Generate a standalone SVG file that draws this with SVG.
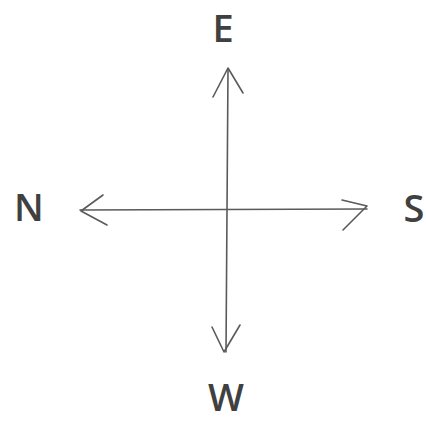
<svg xmlns="http://www.w3.org/2000/svg" width="426" height="423" viewBox="0 0 426 423">
<style>
.lbl{font-family:"Open Sans","Liberation Sans",sans-serif;font-size:38px;font-weight:600;fill:#404040;text-anchor:middle}
.ln{stroke:#5a5a5a;stroke-width:1.6;fill:none;stroke-linecap:round;stroke-linejoin:round}
</style>
<rect width="426" height="423" fill="#ffffff"/>
<g id="connectors">
<path class="ln" d="M228 69 L226 352"/>
<path class="ln" d="M80 210 L367 209"/>
<path class="ln" d="M213 97 L228 68 L243 93"/>
<path class="ln" d="M212 327 L224 352 L240 325"/>
<path class="ln" d="M103 195 L81 211 L107 225"/>
<path class="ln" d="M342 200 L367 206 L343 230"/>
</g>
<g id="node-E"><text class="lbl" x="223" y="42">E</text></g>
<g id="node-N"><text class="lbl" x="29" y="221">N</text></g>
<g id="node-S"><text class="lbl" x="414" y="222">S</text></g>
<g id="node-W"><text class="lbl" x="226" y="411">W</text></g>
</svg>
